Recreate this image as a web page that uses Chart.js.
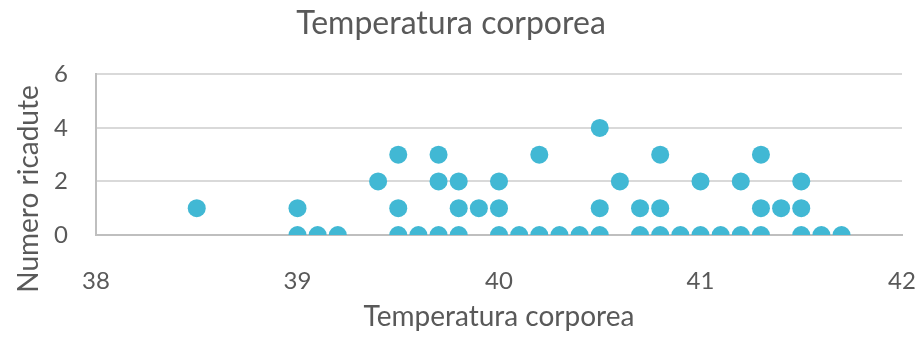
<!DOCTYPE html>
<html>
<head>
<meta charset="utf-8">
<script src="https://cdn.jsdelivr.net/npm/chart.js@4"></script>
<style>
  html, body { margin: 0; padding: 0; background: #fff; }
  #wrap { width: 923px; height: 337px; }
</style>
</head>
<body>
<div id="wrap"><canvas id="chart" width="923" height="337"></canvas></div>
<script>
// Temperatura (x) and Numero ricadute (y)
const temperatura = [
  38.5,
  39.0, 39.0, 39.1, 39.2,
  39.4, 39.5, 39.5, 39.5, 39.6,
  39.7, 39.7, 39.7, 39.8, 39.8, 39.8, 39.9,
  40.0, 40.0, 40.0, 40.1, 40.2, 40.2, 40.3, 40.4,
  40.5, 40.5, 40.5, 40.6, 40.7, 40.7,
  40.8, 40.8, 40.8, 40.9, 41.0, 41.0, 41.1,
  41.2, 41.2, 41.3, 41.3, 41.3, 41.4,
  41.5, 41.5, 41.5, 41.6, 41.7
];
const ricadute = [
  1,
  1, 0, 0, 0,
  2, 3, 1, 0, 0,
  3, 2, 0, 2, 1, 0, 1,
  2, 1, 0, 0, 3, 0, 0, 0,
  4, 1, 0, 2, 1, 0,
  3, 1, 0, 0, 2, 0, 0,
  2, 0, 3, 1, 0, 1,
  2, 1, 0, 0, 0
];
const chartTitle = 'Temperatura corporea';
const xTitle = 'Temperatura corporea';
const yTitle = 'Numero ricadute';

const textColor = '#595959';
const fontFamily = 'Lato, "Open Sans", sans-serif';

const points = temperatura.map((t, i) => ({ x: t, y: ricadute[i] }));

// y axis title drawn by hand so it can sit a bit lower like the original
const yTitlePlugin = {
  id: 'yTitle',
  afterDraw(chart) {
    const ctx = chart.ctx;
    ctx.save();
    ctx.translate(29, 189);
    ctx.rotate(-Math.PI / 2);
    ctx.font = '28px ' + fontFamily;
    ctx.fillStyle = textColor;
    ctx.textAlign = 'center';
    ctx.textBaseline = 'middle';
    ctx.fillText(yTitle, 0, 0);
    ctx.restore();
  }
};

new Chart(document.getElementById('chart').getContext('2d'), {
  type: 'scatter',
  data: {
    datasets: [{
      data: points,
      backgroundColor: '#41b8d4',
      borderWidth: 0,
      pointRadius: 9,
      pointHoverRadius: 9
    }]
  },
  options: {
    responsive: false,
    animation: false,
    layout: { padding: { left: 0, right: 21, top: 0, bottom: 0 } },
    plugins: {
      legend: { display: false },
      tooltip: { enabled: false },
      title: {
        display: true,
        text: chartTitle,
        color: textColor,
        font: { family: fontFamily, size: 32, weight: 'normal' },
        padding: { top: 4, bottom: 32 }
      }
    },
    scales: {
      x: {
        type: 'linear',
        min: 38,
        max: 42,
        afterFit: (scale) => {
          scale.height = 102;
          scale.paddingLeft = 0;
          scale.paddingRight = 0;
        },
        ticks: {
          stepSize: 1,
          color: textColor,
          font: { family: fontFamily, size: 24 },
          padding: 32
        },
        grid: { display: false, drawTicks: false },
        border: { display: true, color: '#bfbfbf', width: 2 },
        title: {
          display: true,
          text: xTitle,
          color: textColor,
          font: { family: fontFamily, size: 28 },
          padding: { top: 0, bottom: 3 }
        }
      },
      y: {
        min: 0,
        max: 6,
        afterFit: (scale) => {
          scale.width = 96;
          scale.paddingTop = 0;
          scale.paddingBottom = 0;
        },
        ticks: {
          stepSize: 2,
          color: textColor,
          font: { family: fontFamily, size: 24 },
          padding: 28
        },
        grid: { color: '#d9d9d9', lineWidth: 2, drawTicks: false },
        border: { display: true, color: '#bfbfbf', width: 2 }
      }
    }
  },
  plugins: [yTitlePlugin]
});
</script>
</body>
</html>
